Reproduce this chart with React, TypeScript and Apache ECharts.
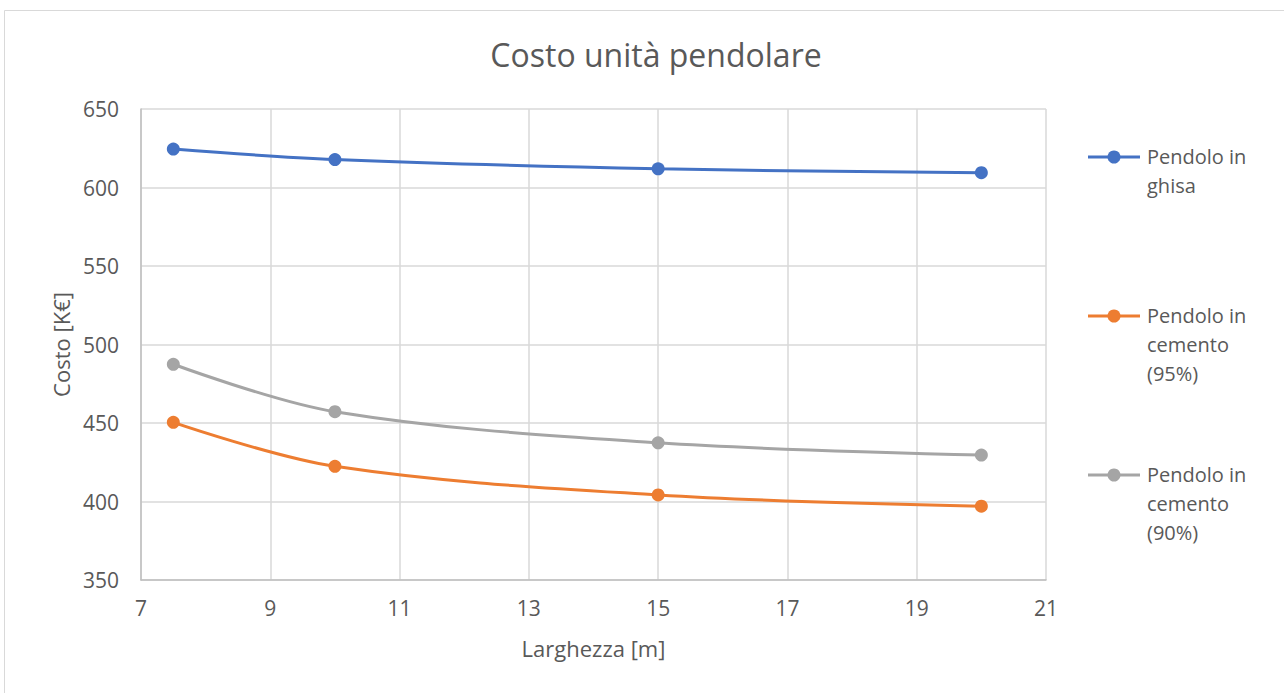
import React, { useEffect, useRef } from "react";
import * as echarts from "echarts";

const xValues = [7.5, 10, 15, 20];
const ghisa = [624.5, 617.8, 611.9, 609.4];
const cemento95 = [450.4, 422.4, 404.2, 397.0];
const cemento90 = [487.4, 457.2, 437.4, 429.6];
const seriesNames = ["Pendolo in ghisa", "Pendolo in cemento (95%)", "Pendolo in cemento (90%)"];
const legendLines = [["Pendolo in", "ghisa"], ["Pendolo in", "cemento", "(95%)"], ["Pendolo in", "cemento", "(90%)"]];
const colors = ["#4472C4", "#ED7D31", "#A5A5A5"];

const FONT = "'Open Sans', 'Noto Sans', sans-serif";

export default function App() {
  const ref = useRef<HTMLDivElement>(null);
  useEffect(() => {
    if (!ref.current) return;
    const chart = echarts.init(ref.current, undefined, { renderer: "svg" });
    const allData = [ghisa, cemento95, cemento90];
    const legendTops = [157, 316, 475];
    const graphics: any[] = [
      {
        type: "rect",
        shape: { x: 4.5, y: 10.5, width: 1290, height: 700 },
        style: { fill: "none", stroke: "#d9d9d9", lineWidth: 1 },
        silent: true,
      },
    ];
    legendLines.forEach((lines, i) => {
      const y = legendTops[i];
      graphics.push({
        type: "line",
        shape: { x1: 1088, y1: y, x2: 1140, y2: y },
        style: { stroke: colors[i], lineWidth: 3 },
      });
      graphics.push({
        type: "circle",
        shape: { cx: 1114, cy: y, r: 6.5 },
        style: { fill: colors[i] },
      });
      graphics.push({
        type: "text",
        x: 1147,
        y: y - 15,
        style: {
          text: lines.join("\n"),
          fill: "#595959",
          font: `20px ${FONT}`,
          lineHeight: 29,
          textVerticalAlign: "top",
        },
      });
    });
    chart.setOption({
      animation: false,
      backgroundColor: "#ffffff",
      title: {
        text: "Costo unità pendolare",
        left: 651,
        top: 33,
        textAlign: "center",
        textStyle: { color: "#595959", fontSize: 32, fontWeight: "normal", fontFamily: FONT },
      },
      grid: { left: 141, right: 238, top: 109, bottom: 113 },
      xAxis: {
        type: "value",
        min: 7,
        max: 21,
        interval: 2,
        name: "Larghezza [m]",
        nameLocation: "middle",
        nameGap: 57,
        nameTextStyle: { color: "#595959", fontSize: 22, fontFamily: FONT },
        axisLine: { show: true, lineStyle: { color: "#bfbfbf", width: 1.5 } },
        axisTick: { show: false },
        axisLabel: { color: "#595959", fontSize: 21, fontFamily: FONT, margin: 17 },
        splitLine: { show: true, lineStyle: { color: "#d9d9d9", width: 1.5 } },
      },
      yAxis: {
        type: "value",
        min: 350,
        max: 650,
        interval: 50,
        name: "Costo [K€]",
        nameLocation: "middle",
        nameGap: 65,
        nameTextStyle: { color: "#595959", fontSize: 22, fontFamily: FONT },
        axisLine: { show: true, lineStyle: { color: "#bfbfbf", width: 1.5 } },
        axisTick: { show: false },
        axisLabel: { color: "#595959", fontSize: 21, fontFamily: FONT, margin: 22 },
        splitLine: { show: true, lineStyle: { color: "#d9d9d9", width: 1.5 } },
      },
      series: allData.map((d, i) => ({
        name: seriesNames[i],
        type: "line",
        data: xValues.map((x, j) => [x, d[j]]),
        smooth: 0.35,
        symbol: "circle",
        symbolSize: 13,
        lineStyle: { color: colors[i], width: 3 },
        itemStyle: { color: colors[i] },
      })),
      graphic: graphics,
    });
    return () => chart.dispose();
  }, []);
  return (
    <div
      ref={ref}
      style={{ position: "absolute", left: 0, top: 0, width: 1284, height: 693 }}
    />
  );
}
